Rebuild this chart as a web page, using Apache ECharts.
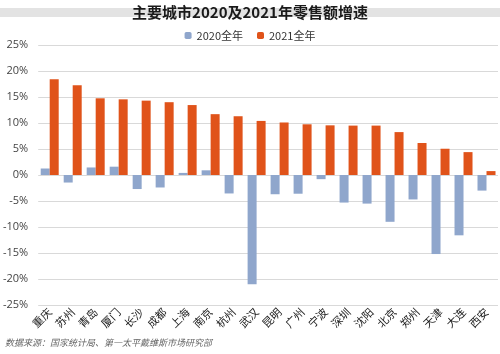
<!DOCTYPE html>
<html>
<head>
<meta charset="utf-8">
<script src="https://cdn.jsdelivr.net/npm/echarts@6/dist/echarts.min.js"></script>
<style>
html,body{margin:0;padding:0;background:#fff;}
#c{width:500px;height:354px;}
</style>
</head>
<body>
<div id="c"></div>
<script>
var categories = ['重庆','苏州','青岛','厦门','长沙','成都','上海','南京','杭州','武汉','昆明','广州','宁波','深圳','沈阳','北京','郑州','天津','大连','西安'];
var values2020 = [1.25,-1.45,1.45,1.6,-2.7,-2.4,0.4,0.9,-3.55,-21.0,-3.7,-3.6,-0.8,-5.3,-5.5,-9.0,-4.7,-15.2,-11.6,-3.0];
var values2021 = [18.4,17.25,14.75,14.55,14.3,14.0,13.45,11.7,11.3,10.4,10.1,9.75,9.55,9.5,9.5,8.25,6.15,5.05,4.4,0.75];
var yTicks = {min:-25, max:25, interval:5};
var seriesNames = ['2020全年','2021全年'];
var titleText = '主要城市2020及2021年零售额增速';
var sourceText = '数据来源：国家统计局、第一太平戴维斯市场研究部';

var chart = echarts.init(document.getElementById('c'), null, {renderer:'canvas'});
var font = '"Noto Sans CJK SC", "Noto Sans", sans-serif';
chart.setOption({
  animation:false,
  textStyle:{fontFamily:font},
  graphic:[
    {type:'rect', left:0, top:8, z:-1, shape:{width:500,height:9}, style:{fill:'#e3e3e3'}},
    {type:'text', left:5, top:338, style:{text:sourceText, fill:'#666', font:'italic 9px "Noto Sans CJK SC", sans-serif'}}
  ],
  title:{
    text:titleText, left:'center', top:0,
    textStyle:{fontSize:15, fontWeight:'bold', color:'#1a1a1a', fontFamily:font}
  },
  legend:{
    data:seriesNames, top:25, left:'center', itemWidth:7, itemHeight:7, itemGap:14,
    textStyle:{fontSize:11, color:'#333', fontFamily:font}
  },
  grid:{left:38, right:2, top:45, bottom:49},
  xAxis:{
    type:'category', data:categories,
    axisLine:{show:false}, axisTick:{show:false},
    axisLabel:{interval:0, rotate:45, fontSize:11, color:'#1a1a1a', margin:5, fontFamily:font}
  },
  yAxis:{
    type:'value', min:yTicks.min, max:yTicks.max, interval:yTicks.interval,
    axisLine:{show:false}, axisTick:{show:false},
    axisLabel:{formatter:'{value}%', fontSize:11, color:'#444', margin:10, fontFamily:'"Open Sans", "Liberation Sans", sans-serif'},
    splitLine:{lineStyle:{color:'#d9d9d9', width:1}}
  },
  series:[
    {name:seriesNames[0], type:'bar', data:values2020, barWidth:9, barGap:'0%', itemStyle:{color:'#8fa6cc'}},
    {name:seriesNames[1], type:'bar', data:values2021, barWidth:9, barGap:'0%', itemStyle:{color:'#e0531a'}}
  ]
});
</script>
</body>
</html>
